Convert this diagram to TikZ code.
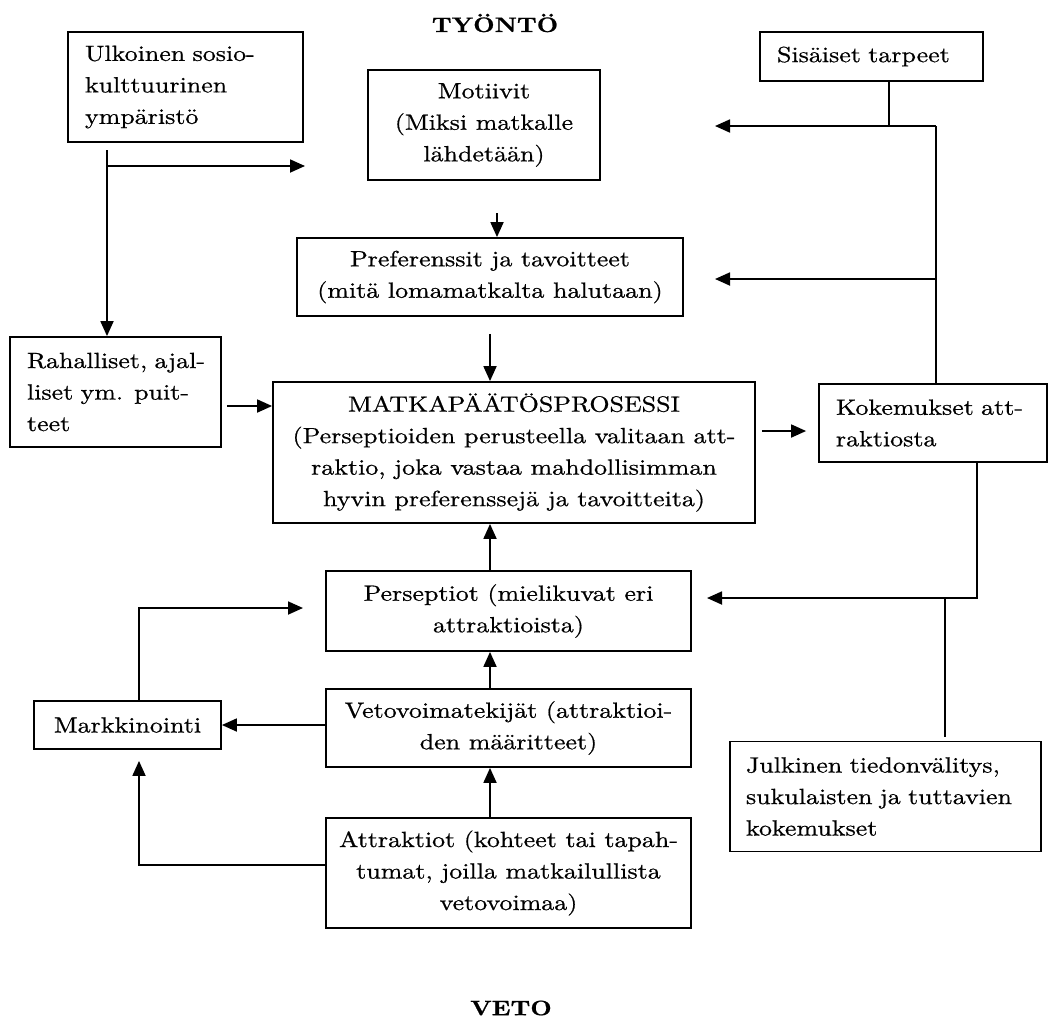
\documentclass[tikz,border=0pt]{standalone}
\usepackage{fontspec}
\setmainfont{lmroman10-regular.otf}[BoldFont=lmroman10-bold.otf,FakeStretch=1.18,FakeBold=0.7]
\usetikzlibrary{arrows.meta}

\begin{document}
\begin{tikzpicture}[x=1pt,y=-1pt,line width=1.8pt,
  >={Triangle[length=15pt,width=13pt]},
  every node/.style={font=\fontsize{22}{31.5}\selectfont},
  box/.style={draw,inner sep=0pt,align=center},
  lbox/.style={box,align=left,text width=#1}]
\useasboundingbox (0,0) rectangle (1048,1021);
\node (tyonto) at (495,23)   [font=\fontsize{21}{31.5}\selectfont\bfseries] {TYÖNTÖ};
\node (veto)   at (511,1008) [font=\fontsize{21}{31.5}\selectfont\bfseries] {VETO};
\node (ulk)   at (185.5,87)  [lbox=201pt,minimum width=235pt,minimum height=110pt] {Ulkoinen sosio-\\kulttuurinen\\ympäristö};
\node (sis)   at (871.5,56.5) [lbox=189pt,minimum width=223pt,minimum height=49pt] {Sisäiset tarpeet};
\node (mot)   at (484,125)   [box,minimum width=232pt,minimum height=110pt] {Motiivit\\(Miksi matkalle\\lähdetään)};
\node (pref)  at (490,277)   [box,minimum width=386pt,minimum height=78pt] {Preferenssit ja tavoitteet\\(mitä lomamatkalta halutaan)};
\node (rah)   at (115.5,392) [lbox=177pt,minimum width=211pt,minimum height=110pt] {\mbox{Rahalliset, ajal-}\\liset ym. puit-\\teet};
\node (matka) at (514,452.5) [box,minimum width=482pt,minimum height=141pt] {MATKAPÄÄTÖSPROSESSI\\(Perseptioiden perusteella valitaan att-\\raktio, joka vastaa mahdollisimman\\hyvin preferenssejä ja tavoitteita)};
\node (kok)   at (933,423)   [lbox=194pt,minimum width=228pt,minimum height=78pt] {Kokemukset att-\\raktiosta};
\node (pers)  at (508.5,611) [box,minimum width=365pt,minimum height=80pt] {Perseptiot (mielikuvat eri\\attraktioista)};
\node (markk) at (127.5,725) [box,minimum width=187pt,minimum height=48pt] {Markkinointi};
\node (vet)   at (508.5,728) [box,minimum width=365pt,minimum height=78pt] {Vetovoimatekijät (attraktioi-\\den määritteet)};
\node (attr)  at (508.5,873) [box,minimum width=365pt,minimum height=110pt] {Attraktiot (kohteet tai tapah-\\tumat, joilla matkailullista\\vetovoimaa)};
\node (julk)  at (885.5,796.5) [lbox=279pt,minimum width=311pt,minimum height=110pt] {Julkinen tiedonvälitys,\\sukulaisten ja tuttavien\\kokemukset};
% free ends of the arrows
\coordinate (ulkout) at (107,150);
\coordinate (motin)  at (305,166);
\coordinate (motr)   at (715,126);
\coordinate (prefr)  at (715,279);
\coordinate (persr)  at (707,598);
\coordinate (persl)  at (303,608);
% push side
\draw [->] (ulkout) -- (ulkout |- rah.north);
\draw [->] (ulkout |- motin) -- (motin);
\draw [-]  ([xshift=17.5pt]sis.south) -- ([xshift=17.5pt]sis.south |- motr);
\draw [->] ([xshift=3pt]kok.north |- motr) -- (motr);
\draw [-]  ([xshift=3pt]kok.north) -- ([xshift=3pt]kok.north |- motr);
\draw [->] ([xshift=3pt]kok.north |- prefr) -- (prefr);
\draw [->] ([xshift=7pt,yshift=24pt]pref.north) -- ([xshift=7pt]pref.north);
\draw [->] ([yshift=-17pt]pref.south) -- (pref.south |- matka.north);
\draw [->] ([xshift=5pt,yshift=-14pt]rah.east) -- ([yshift=-14pt]rah.east -| matka.west);
\draw [->] ([xshift=6pt,yshift=-8pt]kok.west -| matka.east) -- ([xshift=-12pt,yshift=-8pt]kok.west);
% pull side
\draw [->] ([xshift=44pt]kok.south) |- (persr);
\draw [-]  ([xshift=59.5pt,yshift=4pt]julk.north) -- ([xshift=59.5pt]julk.north |- persr);
\draw [->] ([xshift=-18.5pt]pers.north) -- ([xshift=-18.5pt]pers.north |- matka.south);
\draw [->] ([xshift=-18.5pt]vet.north) -- ([xshift=-18.5pt]vet.north |- pers.south);
\draw [->] ([xshift=-18.5pt]attr.north) -- ([xshift=-18.5pt]attr.north |- vet.south);
\draw [->] (vet.west |- markk.east) -- (markk.east);
\draw [->] ([xshift=11.5pt]markk.north) |- (persl);
\draw [->] ([yshift=8pt]attr.west) -| ([xshift=11.5pt,yshift=-11pt]markk.south);
\end{tikzpicture}
\end{document}
